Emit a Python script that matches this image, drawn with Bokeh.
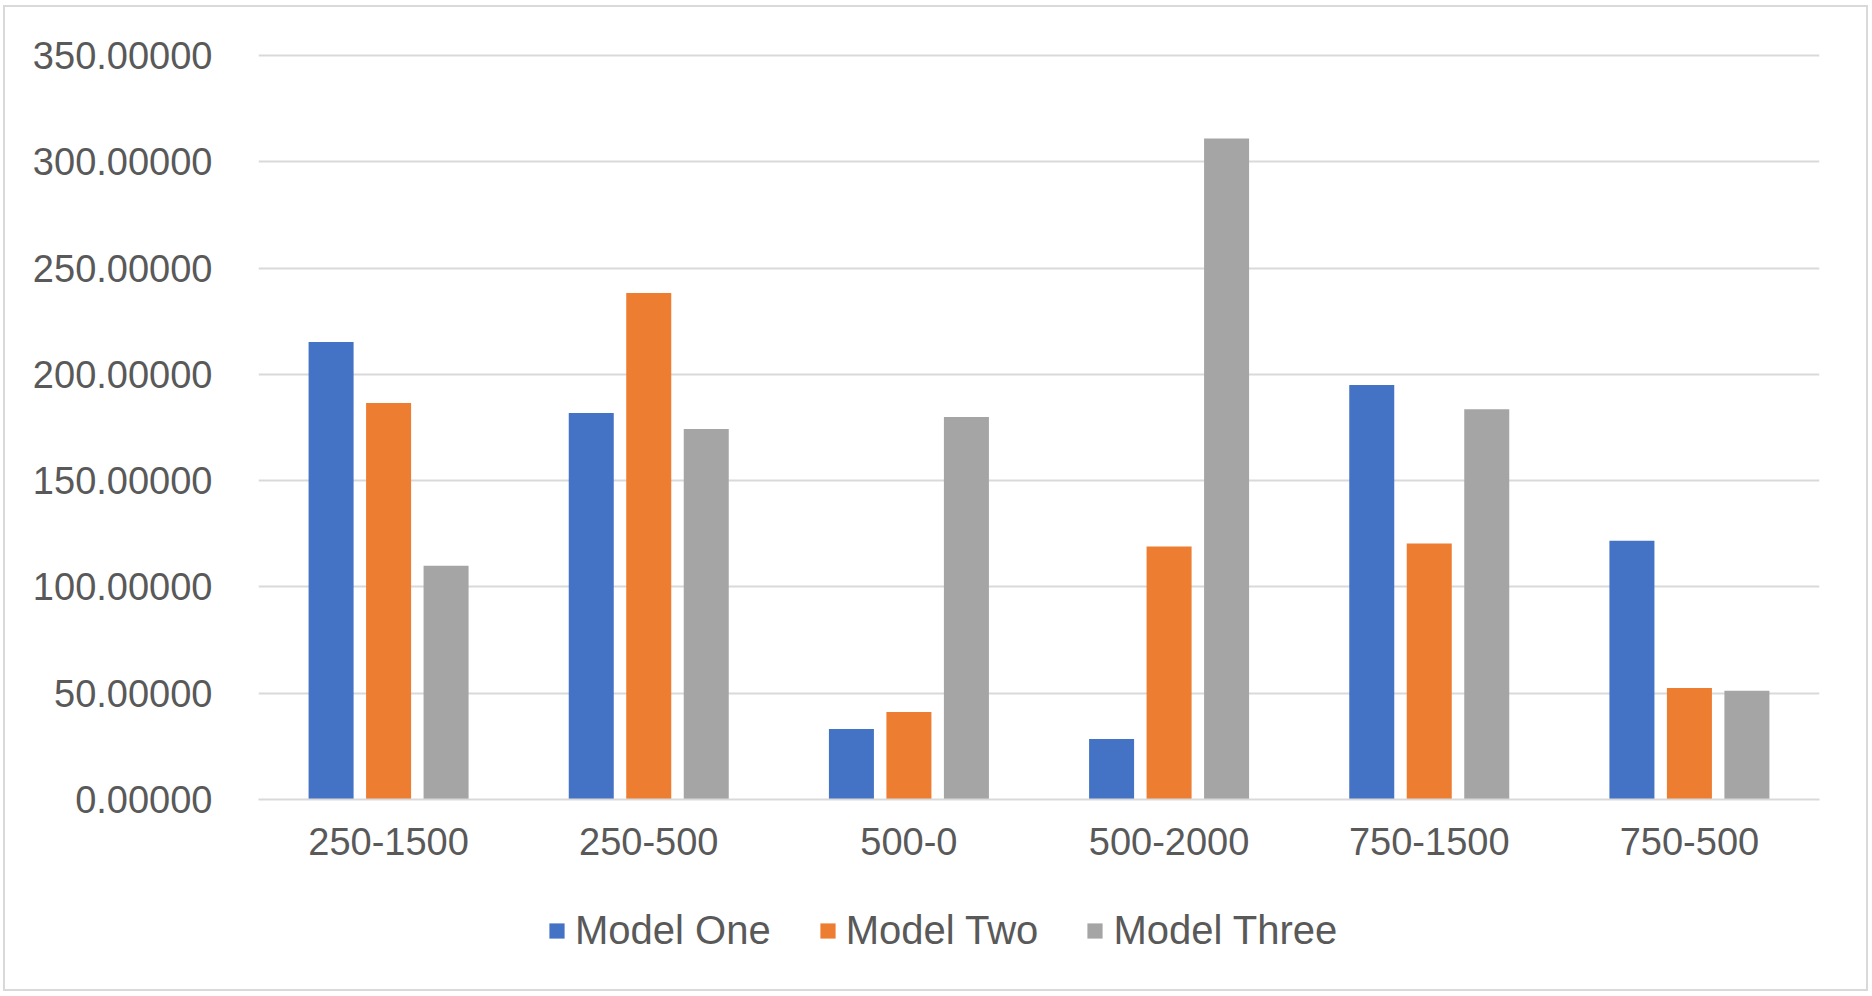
from bokeh.plotting import figure
from bokeh.layouts import column
from bokeh.models import ColumnDataSource, FactorRange, Range1d, FixedTicker, NumeralTickFormatter, Legend, LegendItem
from bokeh.transform import dodge
from bokeh.embed import file_html
from bokeh.resources import INLINE

categories = ["250-1500", "250-500", "500-0", "500-2000", "750-1500", "750-500"]
model_one = [215.2, 181.8, 33.2, 28.5, 195.0, 121.8]
model_two = [186.5, 238.3, 41.2, 119.0, 120.4, 52.5]
model_three = [110.0, 174.3, 180.0, 311.0, 183.6, 51.2]
series_names = ["Model One", "Model Two", "Model Three"]
colors = ["#4472C4", "#ED7D31", "#A5A5A5"]
y_ticks = [0, 50, 100, 150, 200, 250, 300, 350]

source = ColumnDataSource(data=dict(cat=categories, m1=model_one, m2=model_two, m3=model_three))

FONT = "Liberation Sans"
TXT = "#595959"
GRID = "#D9D9D9"
W = 1861

p = figure(
    width=W, height=867,
    x_range=FactorRange(factors=categories, range_padding=0),
    y_range=Range1d(0, 351),
    output_backend="svg", toolbar_location=None,
    min_border_left=253, min_border_right=47, min_border_top=46, min_border_bottom=75,
)
p.outline_line_color = None
p.background_fill_color = "white"
p.border_fill_color = "white"

offsets = [-0.221, 0.0, 0.221]
fields = ["m1", "m2", "m3"]
for f, off, c in zip(fields, offsets, colors):
    p.vbar(x=dodge("cat", off, range=p.x_range), top=f, width=0.173, source=source,
           fill_color=c, line_color=None)

# grid
p.xgrid.grid_line_color = None
p.ygrid.grid_line_color = GRID
p.ygrid.grid_line_width = 2
p.ygrid.ticker = FixedTicker(ticks=y_ticks)

# y axis
p.yaxis.ticker = FixedTicker(ticks=y_ticks)
p.yaxis.formatter = NumeralTickFormatter(format="0.00000")
p.yaxis.axis_line_color = None
p.yaxis.major_tick_line_color = None
p.yaxis.minor_tick_line_color = None
p.yaxis.major_tick_out = 0
p.yaxis.major_tick_in = 0
p.yaxis.major_label_standoff = 46
p.yaxis.major_label_text_font = FONT
p.yaxis.major_label_text_font_size = "38px"
p.yaxis.major_label_text_color = TXT

# x axis
p.xaxis.axis_line_color = GRID
p.xaxis.axis_line_width = 2
p.xaxis.major_tick_line_color = None
p.xaxis.minor_tick_line_color = None
p.xaxis.major_tick_out = 0
p.xaxis.major_tick_in = 0
p.xaxis.major_label_standoff = 28
p.xaxis.major_label_text_font = FONT
p.xaxis.major_label_text_font_size = "38px"
p.xaxis.major_label_text_color = TXT

# legend strip (separate figure below; its series renderers have zero size so only the legend shows)
lg = figure(
    width=W, height=115,
    x_range=FactorRange(factors=categories, range_padding=0), y_range=Range1d(0, 1),
    x_axis_location=None, y_axis_location=None,
    output_backend="svg", toolbar_location=None,
    min_border_left=0, min_border_right=0, min_border_top=0, min_border_bottom=0,
)
lg.outline_line_color = None
lg.xgrid.grid_line_color = None
lg.ygrid.grid_line_color = None
lg_renderers = [
    lg.vbar(x=dodge("cat", off, range=lg.x_range), top=f, bottom=f, width=0, source=source,
            fill_color=c, line_color=None)
    for f, off, c in zip(fields, offsets, colors)
]

legend = Legend(
    items=[LegendItem(label=n, renderers=[r]) for n, r in zip(series_names, lg_renderers)],
    orientation="horizontal",
    location=(289, 36),
    glyph_width=19, glyph_height=19,
    label_standoff=9, spacing=47,
    padding=0, margin=0,
    border_line_color=None, background_fill_alpha=0,
    label_text_font=FONT, label_text_font_size="40px", label_text_color=TXT,
)
lg.add_layout(legend, "center")

layout = column(p, lg, spacing=0,
                styles={"border": "2px solid #D9D9D9", "margin-left": "3px", "margin-top": "5px"})

open("out.html", "w").write(file_html(layout, INLINE))
